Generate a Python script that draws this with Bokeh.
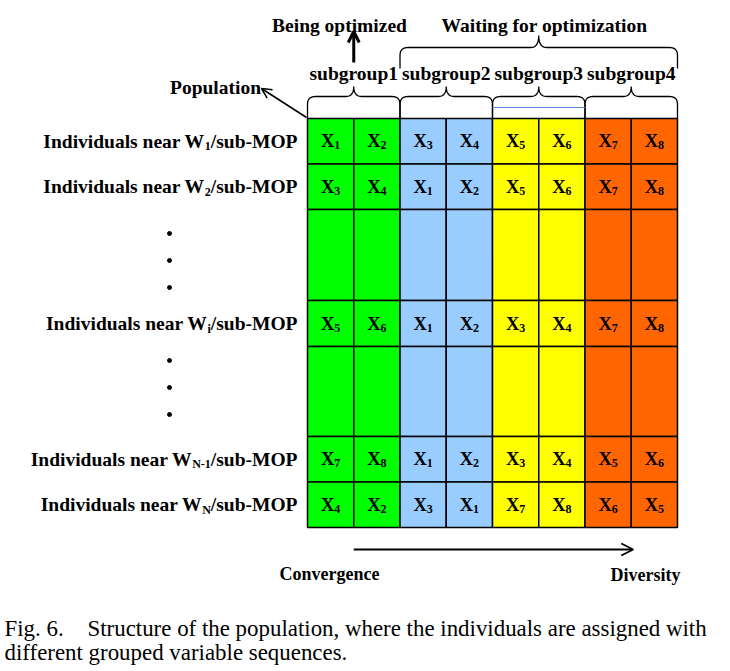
from bokeh.plotting import figure
from bokeh.models import Range1d, Arrow, OpenHead
from bokeh.embed import file_html
from bokeh.resources import INLINE
from bokeh.core.properties import value
import numpy as np

# ---------------- data ----------------
subgroups = ["subgroup1", "subgroup2", "subgroup3", "subgroup4"]
subgroup_colors = ["#00FF00", "#99CCFF", "#FFFF00", "#FF6600"]
row_subscripts = ["1", "2", "i", "N-1", "N"]
row_sequences = [
    [1, 2, 3, 4, 5, 6, 7, 8],
    [3, 4, 1, 2, 5, 6, 7, 8],
    [5, 6, 1, 2, 3, 4, 7, 8],
    [7, 8, 1, 2, 3, 4, 5, 6],
    [4, 2, 3, 1, 7, 8, 6, 5],
]
band_rows = [0, 1, None, 2, None, 3, 4]          # None = ellipsis band
top_labels = ["Being optimized", "Waiting for optimization"]
axis_labels = ["Convergence", "Diversity"]
caption_lines = ["Structure of the population, where the individuals are assigned with",
                 "different grouped variable sequences."]
caption_prefix = "Fig. 6."

# ---------------- layout ----------------
FONT = value("Liberation Serif")
GX0, COLW, GY0 = 307.0, 46.25, 118.0
band_heights = [45.5, 45.5, 91, 46, 90, 45.5, 45.5]
dot_start = {2: 24, 4: 14}
LBL_FS, SUB_FS, CELL_FS, CELL_SUB_FS = 19.5, 12.0, 18.5, 12.0
LABEL_RIGHT = 297.0

# Times-Bold advance widths (1/1000 em) for the glyphs that need manual placement
TB = {'/': 278, 's': 389, 'u': 556, 'b': 556, '-': 333, 'M': 944, 'O': 778, 'P': 611,
      'i': 278, 'N': 722, 'X': 722}
for d in "0123456789":
    TB[d] = 500


def tw(s, fs):
    return sum(TB[c] for c in s) * fs / 1000.0


W, H = 722, 669
p = figure(width=W, height=H, output_backend="svg", toolbar_location=None,
           x_range=Range1d(0, W), y_range=Range1d(H, 0), min_border=0)
p.axis.visible = False
p.grid.visible = False
p.outline_line_color = None
p.background_fill_color = "white"

band_tops = GY0 + np.concatenate([[0], np.cumsum(band_heights)[:-1]])
ncols = 8

# cells
L, R, T, B, C = [], [], [], [], []
for b, h in enumerate(band_heights):
    for c in range(ncols):
        L.append(GX0 + c * COLW)
        R.append(GX0 + (c + 1) * COLW)
        T.append(band_tops[b])
        B.append(band_tops[b] + h)
        C.append(subgroup_colors[c // 2])
p.quad(left=L, right=R, top=T, bottom=B, fill_color=C, line_color="black", line_width=1.5)

# cell labels X_k
xs_main, ys_main, xs_sub, ys_sub, t_sub = [], [], [], [], []
for b, r in enumerate(band_rows):
    if r is None:
        continue
    cy = band_tops[b] + band_heights[b] / 2
    for c, k in enumerate(row_sequences[r]):
        cx = GX0 + (c + 0.5) * COLW
        wx = tw("X", CELL_FS)
        ws = tw(str(k), CELL_SUB_FS)
        x0 = cx - (wx + ws) / 2
        xs_main.append(x0); ys_main.append(cy)
        xs_sub.append(x0 + wx); ys_sub.append(cy + 4); t_sub.append(str(k))
p.text(x=xs_main, y=ys_main, text=["X"] * len(xs_main), text_font=FONT,
       text_font_style="bold", text_font_size=f"{CELL_FS}px", text_align="left",
       text_baseline="middle", text_color="black")
p.text(x=xs_sub, y=ys_sub, text=t_sub, text_font=FONT, text_font_style="bold",
       text_font_size=f"{CELL_SUB_FS}px", text_align="left", text_baseline="middle",
       text_color="black")

# row labels
tail = "/sub-MOP"
hx, hy, sx, sy, st, tx, ty = [], [], [], [], [], [], []
for b, r in enumerate(band_rows):
    if r is None:
        continue
    cy = band_tops[b] + band_heights[b] / 2
    sub = row_subscripts[r]
    wt = tw(tail, LBL_FS)
    ws = tw(sub, SUB_FS)
    tx.append(LABEL_RIGHT); ty.append(cy)
    sx.append(LABEL_RIGHT - wt); sy.append(cy + 5); st.append(sub)
    hx.append(LABEL_RIGHT - wt - ws); hy.append(cy)
common = dict(text_font=FONT, text_font_style="bold", text_align="right",
              text_baseline="middle", text_color="black")
p.text(x=tx, y=ty, text=[tail] * len(tx), text_font_size=f"{LBL_FS}px", **common)
p.text(x=sx, y=sy, text=st, text_font_size=f"{SUB_FS}px", **common)
p.text(x=hx, y=hy, text=["Individuals near W"] * len(hx), text_font_size=f"{LBL_FS}px", **common)

# ellipsis dots
dx, dy = [], []
for b, s in dot_start.items():
    for j in range(3):
        dx.append(169); dy.append(band_tops[b] + s + 27 * j)
p.scatter(x=dx, y=dy, size=4, color="black")


# braces
def qbez(p0, p1, p2, n=12):
    t = np.linspace(0, 1, n)[:, None]
    return (1 - t) ** 2 * np.array(p0) + 2 * (1 - t) * t * np.array(p1) + t ** 2 * np.array(p2)


def brace(x0, x1, yh, ytip, yend, r=8):
    xm = (x0 + x1) / 2
    pts = [np.array([[x0, yend]])]
    pts.append(qbez((x0, yh + r), (x0, yh), (x0 + r, yh)))
    pts.append(qbez((xm - r, yh), (xm, yh), (xm, ytip)))
    pts.append(qbez((xm, ytip), (xm, yh), (xm + r, yh)))
    pts.append(qbez((x1 - r, yh), (x1, yh), (x1, yh + r)))
    pts.append(np.array([[x1, yend]]))
    a = np.vstack(pts)
    return a[:, 0], a[:, 1]


gw = 2 * COLW
for g in range(len(subgroups)):
    bx, by = brace(GX0 + g * gw, GX0 + (g + 1) * gw, 96, 86, GY0)
    p.line(bx, by, line_color="black", line_width=1.3)
bx, by = brace(GX0 + gw, GX0 + 4 * gw, 47, 35, 68)
p.line(bx, by, line_color="black", line_width=1.3)
p.line([GX0 + 2 * gw, GX0 + 3 * gw], [107, 107], line_color="#5B8BD0", line_width=1)

# group labels
gcx = [GX0 + (g + 0.5) * gw for g in range(len(subgroups))]
p.text(x=gcx, y=[73] * 4, text=subgroups, text_font=FONT, text_font_style="bold",
       text_font_size=f"{LBL_FS}px", text_align="center", text_baseline="middle")
p.text(x=[339, 544], y=[25, 25], text=top_labels, text_font=FONT, text_font_style="bold",
       text_font_size=f"{LBL_FS}px", text_align="center", text_baseline="middle")
p.text(x=[215], y=[87], text=["Population"], text_font=FONT, text_font_style="bold",
       text_font_size=f"{LBL_FS}px", text_align="center", text_baseline="middle")
p.text(x=[329, 645], y=[573, 574], text=axis_labels, text_font=FONT, text_font_style="bold",
       text_font_size="18px", text_align="center", text_baseline="middle")

# arrows
p.add_layout(Arrow(end=OpenHead(size=11, line_width=3), x_start=gcx[0], y_start=62,
                   x_end=gcx[0], y_end=31, line_width=3))
p.add_layout(Arrow(end=OpenHead(size=10, line_width=1.5), x_start=306, y_start=117,
                   x_end=261, y_end=88, line_width=1.5))
p.add_layout(Arrow(end=OpenHead(size=12, line_width=1.8), x_start=GX0 + COLW, y_start=549,
                   x_end=GX0 + 7 * COLW + 2, y_end=549, line_width=1.8))

# caption
p.text(x=[4], y=[628], text=[caption_prefix], text_font=FONT, text_font_size="22.9px",
       text_align="left", text_baseline="middle")
p.text(x=[87, 4], y=[628, 652], text=caption_lines, text_font=FONT, text_font_size="22.9px",
       text_align="left", text_baseline="middle")

open("out.html", "w").write(file_html(p, INLINE))
